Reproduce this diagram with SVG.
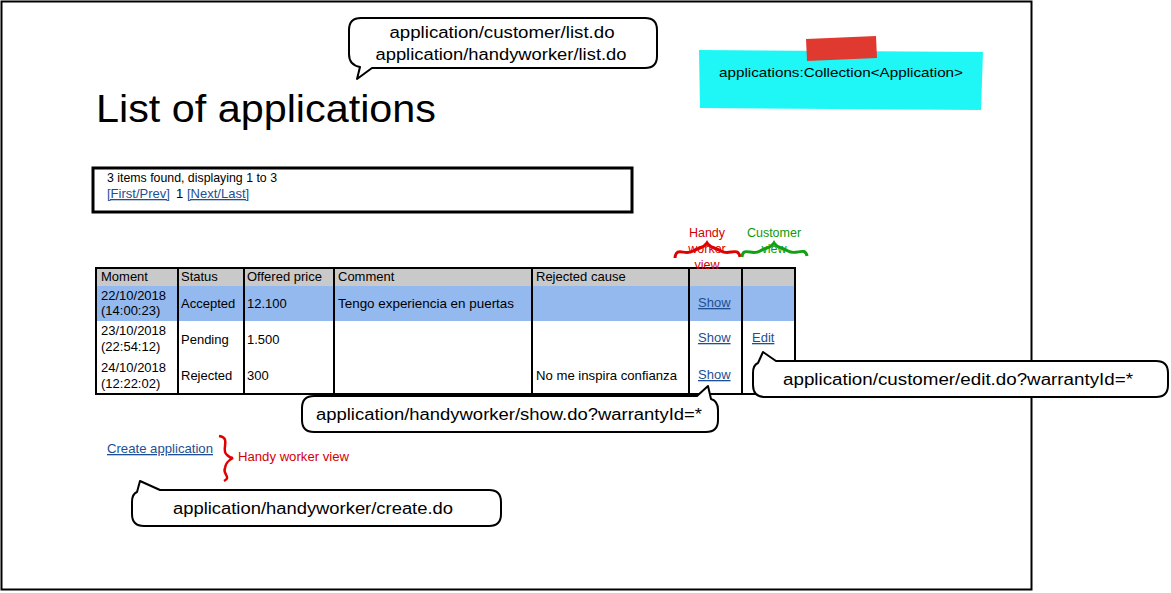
<svg xmlns="http://www.w3.org/2000/svg" width="1171" height="593" viewBox="0 0 1171 593">
<style>
text{font-family:"Liberation Sans",Arial,sans-serif;fill:#000}
.t{font-size:13px}
.lnk{font-size:13px;fill:#1d4f93;text-decoration:underline}
.bub{fill:#fff;stroke:#000;stroke-width:2;stroke-linejoin:round}
.bt{font-size:16px;text-anchor:middle}
.grid{stroke:#000;stroke-width:2;fill:none}
.red{font-size:12.5px;fill:#d40000;text-anchor:middle}
.grn{font-size:12.5px;fill:#0a9a0a;text-anchor:middle}
</style>
<rect id="frame" x="1.5" y="1.5" width="1030" height="588" fill="#fff" stroke="#000" stroke-width="2"/>

<g id="title"><text x="96" y="122" font-size="38" textLength="340" lengthAdjust="spacingAndGlyphs">List of applications</text></g>

<g id="sticky">
<path d="M699,50 L983,52 L981,110 L700,108 Z" fill="#1ff7f7"/>
<path d="M806,39 L876,36 L877,58 L807,61 Z" fill="#e03a30"/>
<text x="841" y="77" font-size="13" text-anchor="middle" textLength="244" lengthAdjust="spacingAndGlyphs">applications:Collection&lt;Application&gt;</text>
</g>

<g id="pagination">
<rect x="93" y="168" width="539" height="44" fill="#fff" stroke="#000" stroke-width="3"/>
<text class="t" x="107" y="182" textLength="170" lengthAdjust="spacingAndGlyphs">3 items found, displaying 1 to 3</text>
<text class="lnk" x="107" y="198">[First/Prev]</text>
<text class="t" x="176" y="198">1</text>
<text class="lnk" x="187" y="198">[Next/Last]</text>
</g>

<g id="table">
<rect x="96" y="268" width="699" height="18" fill="#c9c9c9"/>
<rect x="96" y="286" width="699" height="35" fill="#94b9ee"/>
<rect x="96" y="321" width="699" height="73" fill="#fff"/>
<rect x="96" y="268" width="699" height="126" class="grid" stroke-width="2.5"/>
<g class="grid">
<line x1="178" y1="268" x2="178" y2="394"/>
<line x1="244" y1="268" x2="244" y2="394"/>
<line x1="334" y1="268" x2="334" y2="394"/>
<line x1="532" y1="268" x2="532" y2="394"/>
<line x1="689" y1="268" x2="689" y2="394"/>
<line x1="742" y1="268" x2="742" y2="394"/>
</g>
<text class="t" x="101" y="281">Moment</text>
<text class="t" x="181" y="281">Status</text>
<text class="t" x="247" y="281">Offered price</text>
<text class="t" x="338" y="281">Comment</text>
<text class="t" x="536" y="281">Rejected cause</text>

<text class="t" x="101" y="300">22/10/2018</text>
<text class="t" x="101" y="315">(14:00:23)</text>
<text class="t" x="181" y="308">Accepted</text>
<text class="t" x="247" y="308">12.100</text>
<text class="t" x="338" y="308" textLength="176" lengthAdjust="spacingAndGlyphs">Tengo experiencia en puertas</text>
<text class="lnk" x="698" y="307">Show</text>

<text class="t" x="101" y="335">23/10/2018</text>
<text class="t" x="101" y="351">(22:54:12)</text>
<text class="t" x="181" y="344">Pending</text>
<text class="t" x="247" y="344">1.500</text>
<text class="lnk" x="698" y="342">Show</text>
<text class="lnk" x="752" y="342">Edit</text>

<text class="t" x="101" y="372">24/10/2018</text>
<text class="t" x="101" y="388">(12:22:02)</text>
<text class="t" x="181" y="380">Rejected</text>
<text class="t" x="247" y="380">300</text>
<text class="t" x="536" y="380" textLength="141" lengthAdjust="spacingAndGlyphs">No me inspira confianza</text>
<text class="lnk" x="698" y="379">Show</text>
</g>

<g id="handy-label">
<text class="red" x="707" y="237">Handy</text>
<text class="red" x="707" y="253">worker</text>
<text class="red" x="707" y="269">view</text>
<path d="M675,258 C676,246 685,256 693,251 C700,247 704,248 707,243 C710,248 714,247 721,251 C729,256 738,246 740,257" fill="none" stroke="#e00000" stroke-width="3"/>
</g>
<g id="customer-label">
<text class="grn" x="774" y="237">Customer</text>
<text class="grn" x="774" y="253">view</text>
<path d="M742,257 C743,246 752,256 760,251 C767,247 771,248 774,243 C777,248 781,247 788,251 C796,256 805,246 807,256" fill="none" stroke="#10a010" stroke-width="3"/>
</g>

<g id="create">
<text class="lnk" x="107" y="453" textLength="106" lengthAdjust="spacingAndGlyphs">Create application</text>
<path d="M219,436 C232,438 220,450 227,455 C229,457 231,458 233,458 C229,460 226,462 225,468 C222,474 232,477 224,481" fill="none" stroke="#e00000" stroke-width="2.5"/>
<text x="238" y="461" font-size="12.5" style="fill:#d40000" textLength="111" lengthAdjust="spacingAndGlyphs">Handy worker view</text>
</g>

<g id="connectors">
<path class="bub" d="M361,18 H645 Q657,18 657,30 V56 Q657,68 645,68 H372 L357,79 L360,67 Q349,65 349,54 V30 Q349,18 361,18 Z"/>
<path class="bub" d="M314,396 H697 L708,386 L711,399 Q718,401 718,410 V420 Q718,432 706,432 H314 Q302,432 302,420 V408 Q302,396 314,396 Z"/>
<path class="bub" d="M776,361 H1156 Q1168,361 1168,373 V385 Q1168,397 1156,397 H765 Q753,397 753,385 V373 Q753,365 758,363 L763,352 Z"/>
<path class="bub" d="M160,490 H489 Q501,490 501,502 V514 Q501,526 489,526 H144 Q132,526 132,514 V502 Q132,494 137,492 L140,481 Z"/>
</g>

<g id="bubble-list"><text class="bt" x="502" y="38" textLength="225" lengthAdjust="spacingAndGlyphs">application/customer/list.do</text>
<text class="bt" x="501" y="60" textLength="251" lengthAdjust="spacingAndGlyphs">application/handyworker/list.do</text></g>
<g id="bubble-show"><text class="bt" x="509" y="420" textLength="386" lengthAdjust="spacingAndGlyphs">application/handyworker/show.do?warrantyId=*</text></g>
<g id="bubble-edit"><text class="bt" x="958" y="385" textLength="350" lengthAdjust="spacingAndGlyphs">application/customer/edit.do?warrantyId=*</text></g>
<g id="bubble-create"><text class="bt" x="313" y="514" textLength="280" lengthAdjust="spacingAndGlyphs">application/handyworker/create.do</text></g>
</svg>
